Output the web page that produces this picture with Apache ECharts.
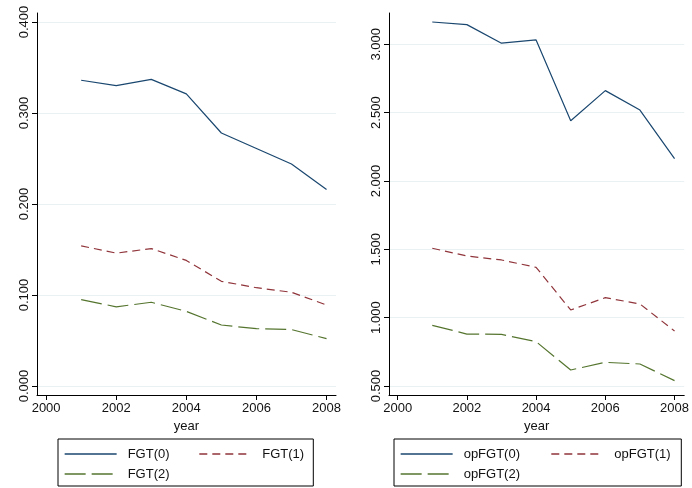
<!DOCTYPE html>
<html>
<head>
<meta charset="utf-8">
<script src="https://cdn.jsdelivr.net/npm/echarts@6/dist/echarts.min.js"></script>
<style>html,body{margin:0;padding:0;background:#fff}#c{width:692px;height:488px}</style>
</head>
<body>
<div id="c"></div>
<script>
var years = [2001, 2002, 2003, 2004, 2005, 2006, 2007, 2008];
var fgt0 = [0.336, 0.330, 0.337, 0.321, 0.278, 0.261, 0.244, 0.216];
var fgt1 = [0.154, 0.146, 0.151, 0.138, 0.115, 0.108, 0.103, 0.089];
var fgt2 = [0.095, 0.087, 0.092, 0.082, 0.067, 0.063, 0.062, 0.052];
var opfgt0 = [3.163, 3.144, 3.008, 3.032, 2.441, 2.661, 2.519, 2.163];
var opfgt1 = [1.508, 1.451, 1.422, 1.368, 1.056, 1.146, 1.100, 0.902];
var opfgt2 = [0.944, 0.880, 0.878, 0.824, 0.617, 0.673, 0.661, 0.539];
var xTicks = [2000, 2002, 2004, 2006, 2008];
var yTicksLeft = [0, 0.1, 0.2, 0.3, 0.4];
var yTicksRight = [0.5, 1.0, 1.5, 2.0, 2.5, 3.0];
var namesLeft = ['FGT(0)', 'FGT(1)', 'FGT(2)'];
var namesRight = ['opFGT(0)', 'opFGT(1)', 'opFGT(2)'];

function pairs(v) { return years.map(function (y, i) { return [y, v[i]]; }); }

var FONT = 'Liberation Sans';
var AX = '#000';
var GRIDC = '#e9f1f2';
var C0 = '#1a476f', C1 = '#90353b', C2 = '#55752f';

function xAxis(gi, min, max) {
  return {
    type: 'value', gridIndex: gi, min: min, max: max,
    name: 'year', nameLocation: 'middle', nameGap: 21,
    nameTextStyle: { fontFamily: FONT, fontSize: 13, color: '#111' },
    axisLine: { show: true, onZero: false, lineStyle: { color: AX, width: 1 } },
    axisTick: { show: true, length: 5, customValues: xTicks, lineStyle: { color: AX } },
    axisLabel: { customValues: xTicks, margin: 7, fontFamily: FONT, fontSize: 13, color: '#111',
      formatter: function (v) { return String(Math.round(v)); } },
    splitLine: { show: false }
  };
}
function yAxis(gi, min, max, ticks) {
  return {
    type: 'value', gridIndex: gi, min: min, max: max,
    axisLine: { show: true, onZero: false, lineStyle: { color: AX, width: 1 } },
    axisTick: { show: true, length: 5, customValues: ticks, lineStyle: { color: AX } },
    axisLabel: { customValues: ticks, rotate: 90, margin: 6, fontFamily: FONT, fontSize: 13, color: '#111',
      formatter: function (v) { return v.toFixed(3); } },
    splitLine: { show: true, lineStyle: { color: GRIDC, width: 1 } }
  };
}
function series(name, data, gi, color, type) {
  return {
    name: name, type: 'line', xAxisIndex: gi, yAxisIndex: gi, data: pairs(data),
    symbol: 'none', showSymbol: false, animation: false, silent: true,
    lineStyle: { color: color, width: 1.2, type: type },
    itemStyle: { color: color }
  };
}
var dashRed = [8, 5];
var dashGreen = [21, 6];

function tok(w) {
  return { width: w, height: 20, lineHeight: 20, padding: [0, 0, 0, 6],
    fontFamily: FONT, fontSize: 13, color: '#111' };
}
function legend(left, names, w1, w2) {
  return {
    left: left, top: 439, orient: 'horizontal', width: 52 + 5 + 6 + w1 + 52 + 5 + 6 + w2 + 2,
    itemWidth: 52, itemHeight: 20, itemGap: 0,
    padding: [5, 6, 2, 6],
    borderColor: '#000', borderWidth: 1, borderRadius: 0,
    backgroundColor: '#fff',
    selectedMode: false,
    itemStyle: { opacity: 0, color: 'rgba(0,0,0,0)', borderColor: 'rgba(0,0,0,0)', borderWidth: 0 },
    lineStyle: { width: 1.3 },
    data: names,
    formatter: function (name) {
      var i = names.indexOf(name);
      return '{' + (i === 1 ? 'b' : 'a') + '|' + name + '}';
    },
    textStyle: { fontFamily: FONT, fontSize: 13, color: '#111', rich: { a: tok(w1), b: tok(w2) } }
  };
}

var chart = echarts.init(document.getElementById('c'), null, { renderer: 'canvas' });
chart.setOption({
  animation: false,
  backgroundColor: '#fff',
  grid: [
    { left: 37, right: 356, top: 13, bottom: 93 },
    { left: 389, right: 4, top: 13, bottom: 93 }
  ],
  xAxis: [xAxis(0, 1999.74, 2008.27), xAxis(1, 1999.75, 2008.28)],
  yAxis: [yAxis(0, -0.0099, 0.4099, yTicksLeft), yAxis(1, 0.434, 3.229, yTicksRight)],
  legend: [
    legend(58, namesLeft, 71, 45),
    legend(394, namesRight, 87, 61)
  ],
  series: [
    series(namesLeft[0], fgt0, 0, C0, 'solid'),
    series(namesLeft[1], fgt1, 0, C1, dashRed),
    series(namesLeft[2], fgt2, 0, C2, dashGreen),
    series(namesRight[0], opfgt0, 1, C0, 'solid'),
    series(namesRight[1], opfgt1, 1, C1, dashRed),
    series(namesRight[2], opfgt2, 1, C2, dashGreen)
  ]
});
</script>
</body>
</html>
